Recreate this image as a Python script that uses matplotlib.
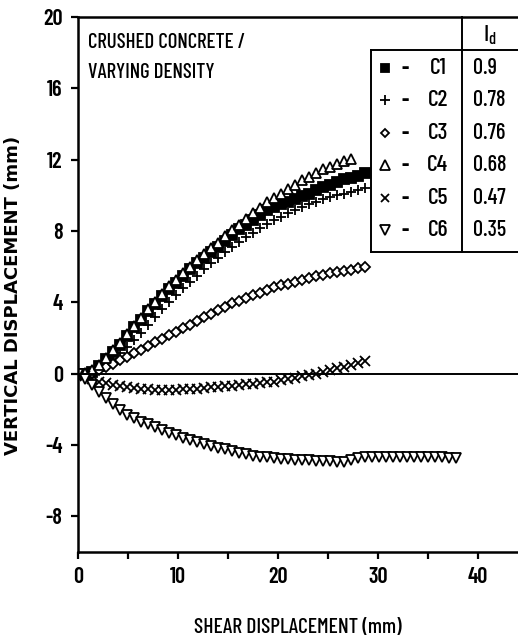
import matplotlib
matplotlib.use("Agg")
import matplotlib.pyplot as plt
from matplotlib.lines import Line2D

plt.rcParams['font.family'] = ['Barlow Condensed', 'DejaVu Sans']
plt.rcParams['axes.unicode_minus'] = False

# shear displacement (mm), shared by all tests
shear = [0, 0.7, 1.4, 2.1, 2.8, 3.5, 4.2, 4.9, 5.6, 6.3, 7.0, 7.7, 8.4, 9.1,
         9.8, 10.5, 11.2, 11.9, 12.6, 13.3, 14.0, 14.7, 15.4, 16.1, 16.8,
         17.5, 18.2, 18.9, 19.6, 20.3, 21.0, 21.7, 22.4, 23.1, 23.8, 24.5,
         25.2, 25.9, 26.6, 27.3, 28.0, 28.7, 29.4, 30.1, 30.8, 31.5, 32.2,
         32.9, 33.6, 34.3, 35.0, 35.7, 36.4, 37.1, 37.8]

# vertical displacement (mm)
c1 = [0, 0, 0.1, 0.45, 0.85, 1.2, 1.6, 2.1, 2.6, 3.0, 3.5, 3.9, 4.35, 4.75,
      5.1, 5.5, 5.85, 6.2, 6.5, 6.85, 7.1, 7.45, 7.8, 8.1, 8.35, 8.6, 8.9,
      9.15, 9.35, 9.5, 9.65, 9.8, 9.95, 10.1, 10.3, 10.45, 10.6, 10.75,
      10.9, 11.0, 11.1, 11.25]
c2 = [0, 0, 0.05, 0.25, 0.5, 0.8, 1.15, 1.5, 1.9, 2.3, 2.75, 3.15, 3.6, 4.0,
      4.4, 4.8, 5.15, 5.5, 5.85, 6.2, 6.5, 6.8, 7.1, 7.4, 7.65, 7.9, 8.15,
      8.4, 8.6, 8.8, 9.0, 9.2, 9.35, 9.5, 9.65, 9.8, 9.9, 10.0, 10.1, 10.2,
      10.3, 10.4]
c3 = [0, 0, 0.05, 0.2, 0.35, 0.55, 0.75, 0.95, 1.15, 1.35, 1.55, 1.75, 1.95,
      2.15, 2.35, 2.55, 2.75, 2.95, 3.15, 3.35, 3.55, 3.75, 3.95, 4.1, 4.25,
      4.4, 4.55, 4.7, 4.85, 4.95, 5.05, 5.15, 5.25, 5.35, 5.45, 5.55, 5.62,
      5.7, 5.77, 5.84, 5.9, 5.96]
c4 = [0, 0.05, 0.2, 0.5, 0.9, 1.3, 1.7, 2.2, 2.7, 3.1, 3.6, 4.0, 4.45, 4.9,
      5.25, 5.65, 6.0, 6.35, 6.7, 7.05, 7.35, 7.7, 8.05, 8.35, 8.7, 9.0, 9.3,
      9.6, 9.85, 10.1, 10.35, 10.6, 10.85, 11.05, 11.25, 11.45, 11.6, 11.75,
      11.9, 12.05]
c5 = [0, -0.15, -0.3, -0.45, -0.55, -0.65, -0.7, -0.75, -0.8, -0.85, -0.88,
      -0.9, -0.9, -0.9, -0.9, -0.88, -0.86, -0.84, -0.8, -0.77, -0.73, -0.7,
      -0.67, -0.63, -0.6, -0.56, -0.52, -0.48, -0.44, -0.38, -0.3, -0.22,
      -0.15, -0.07, 0.0, 0.1, 0.2, 0.3, 0.4, 0.5, 0.6, 0.73]
c6 = [0, -0.3, -0.65, -1.0, -1.35, -1.7, -2.05, -2.3, -2.5, -2.7, -2.85, -3.0,
      -3.15, -3.3, -3.45, -3.6, -3.72, -3.85, -3.95, -4.05, -4.15, -4.25,
      -4.35, -4.45, -4.52, -4.6, -4.65, -4.7, -4.75, -4.78, -4.8, -4.82,
      -4.84, -4.86, -4.88, -4.9, -4.92, -4.94, -4.95, -4.85, -4.75, -4.7,
      -4.7, -4.68, -4.68, -4.66, -4.66, -4.66, -4.66, -4.66, -4.68, -4.68,
      -4.7, -4.72, -4.72]

names = ['C1', 'C2', 'C3', 'C4', 'C5', 'C6']
density = ['0.9', '0.78', '0.76', '0.68', '0.47', '0.35']
series = [c1, c2, c3, c4, c5, c6]
markers = ['s', '+', 'D', '^', 'x', 'v']
sizes = [6.5, 7.5, 5, 7, 6.5, 7]
fills = ['black', 'none', 'white', 'white', 'none', 'white']

fig = plt.figure(figsize=(5.18, 6.39), dpi=100)
ax = fig.add_axes([78/518, 1-552/639, 440/518, 535/639])

for y, m, s, f in zip(series, markers, sizes, fills):
    ax.plot(shear[:len(y)], y, linestyle='none', marker=m, markersize=s,
            markerfacecolor=f, markeredgecolor='black', markeredgewidth=1.3,
            color='black')

ax.axhline(0, color='black', lw=1.4)
ax.set_xlim(0, 44)
ax.set_ylim(-10, 20)
ax.set_xticks([0, 10, 20, 30, 40])
ax.set_xticks([5, 15, 25, 35], minor=True)
ax.set_yticks([-8, -4, 0, 4, 8, 12, 16, 20])
ax.tick_params(direction='out', length=5, width=1.6, labelsize=16, pad=6)
ax.tick_params(which='minor', direction='out', length=5, width=1.6)
ax.spines['right'].set_visible(False)
for s in ['left', 'top', 'bottom']:
    ax.spines[s].set_linewidth(1.8)
for lab in ax.get_xticklabels() + ax.get_yticklabels():
    lab.set_fontweight('semibold')

ax.set_xlabel('SHEAR DISPLACEMENT (mm)', fontsize=15.5, fontweight='medium',
              labelpad=22)
ax.set_ylabel('VERTICAL DISPLACEMENT (mm)', fontsize=13, fontweight='bold',
              family='DejaVu Sans')
ax.yaxis.set_label_coords(-0.128, 0.48)

ax.text(0.023, 0.953, 'CRUSHED CONCRETE /', transform=ax.transAxes,
        fontsize=15, fontweight='medium', va='center', ha='left')
ax.text(0.023, 0.897, 'VARYING DENSITY', transform=ax.transAxes,
        fontsize=15, fontweight='medium', va='center', ha='left')

# legend table
tr = ax.transAxes
ax.add_line(Line2D([0.873, 0.873], [1.0, 0.561], transform=tr, color='black', lw=1.4, clip_on=False))
ax.add_line(Line2D([0.666, 1.0], [0.938, 0.938], transform=tr, color='black', lw=1.4, clip_on=False))
ax.add_line(Line2D([0.666, 0.666], [0.938, 0.561], transform=tr, color='black', lw=1.4, clip_on=False))
ax.add_line(Line2D([0.666, 1.0], [0.561, 0.561], transform=tr, color='black', lw=1.4, clip_on=False))
ax.text(0.936, 0.966, '$\\mathregular{I_d}$', transform=tr, fontsize=17,
        fontweight='medium', ha='center', va='center')
rows_y = [0.905, 0.845, 0.783, 0.723, 0.662, 0.602]
for i in range(6):
    ax.plot([0.698], [rows_y[i]], transform=tr, linestyle='none',
            marker=markers[i], markersize=sizes[i] - 0.5, markerfacecolor=fills[i],
            markeredgecolor='black', markeredgewidth=1.3, clip_on=False)
    ax.text(0.743, rows_y[i], '-', transform=tr, fontsize=16,
            fontweight='bold', ha='center', va='center')
    ax.text(0.818, rows_y[i], names[i], transform=tr, fontsize=17,
            fontweight='medium', ha='center', va='center')
    ax.text(0.898, rows_y[i], density[i], transform=tr, fontsize=16,
            fontweight='medium', ha='left', va='center')

fig.savefig('out.png', dpi=100)
